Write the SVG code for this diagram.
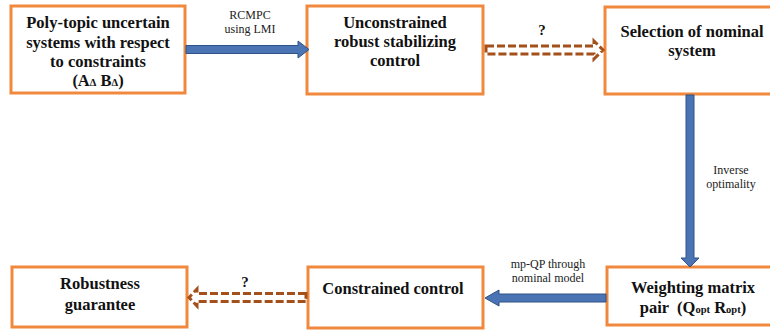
<svg xmlns="http://www.w3.org/2000/svg" width="770" height="331" viewBox="0 0 770 331">
<defs>
<style>
.box{fill:#fff;stroke:#f0893e;stroke-width:3}
.t{font-family:"Liberation Serif","Times New Roman",serif;font-weight:bold;font-size:16.5px;fill:#111;text-anchor:middle}
.l{font-family:"Liberation Serif","Times New Roman",serif;font-size:12px;fill:#222;text-anchor:middle}
.q{font-family:"Liberation Serif","Times New Roman",serif;font-weight:bold;font-size:15px;fill:#111;text-anchor:middle}
.sub{font-size:10.5px}
.blue{fill:#4a74b3;stroke:#2e5286;stroke-width:1}
.dash{fill:none;stroke:#a3501b;stroke-width:3;stroke-dasharray:8 3}
</style>
</defs>
<rect width="770" height="331" fill="#fff"/>
<g id="n1"><rect class="box" x="11" y="6" width="174" height="87"/>
<text class="t" x="98" y="28">Poly-topic uncertain</text>
<text class="t" x="98" y="48">systems with respect</text>
<text class="t" x="98" y="67">to constraints</text>
<text class="t" x="98" y="86">(A<tspan class="sub">Δ</tspan> B<tspan class="sub">Δ</tspan>)</text></g>
<g id="n2"><rect class="box" x="307" y="6" width="176" height="88"/>
<text class="t" x="395" y="28">Unconstrained</text>
<text class="t" x="395" y="47">robust stabilizing</text>
<text class="t" x="395" y="66">control</text></g>
<g id="n3"><rect class="box" x="605" y="7" width="175" height="87"/>
<text class="t" x="692" y="37">Selection of nominal</text>
<text class="t" x="692" y="56">system</text></g>
<g id="n4"><rect class="box" x="607" y="267" width="175" height="58"/>
<text class="t" x="693" y="293">Weighting matrix</text>
<text class="t" x="693" y="313">pair &#160;(Q<tspan class="sub">opt</tspan> R<tspan class="sub">opt</tspan>)</text></g>
<g id="n5"><rect class="box" x="308" y="267" width="175" height="61"/>
<text class="t" x="393" y="294">Constrained control</text></g>
<g id="n6"><rect class="box" x="12" y="267" width="175" height="60"/>
<text class="t" x="100" y="289">Robustness</text>
<text class="t" x="100" y="310">guarantee</text></g>
<g id="connectors">
<polygon class="blue" points="186,45.5 298,45.5 298,41 309,49.5 298,58 298,53.5 186,53.5"/>
<text class="l" x="250" y="19">RCMPC</text>
<text class="l" x="250" y="33">using LMI</text>
<polygon class="dash" points="486,46 594,46 594,41 603,50 594,59 594,54 486,54"/>
<text class="q" x="542" y="35">?</text>
<polygon class="blue" points="686,95 694,95 694,258 699,258 690,267 681,258 686,258"/>
<text class="l" x="731" y="174">Inverse</text>
<text class="l" x="731" y="188">optimality</text>
<polygon class="blue" points="606,294 499,294 499,290 485,298 499,306 499,302 606,302"/>
<text class="l" x="548" y="268">mp-QP through</text>
<text class="l" x="548" y="282">nominal model</text>
<polygon class="dash" points="306,293.5 197,293.5 197,289 189,297.5 197,306 197,301.5 306,301.5"/>
<text class="q" x="245" y="287">?</text>
</g>
</svg>
